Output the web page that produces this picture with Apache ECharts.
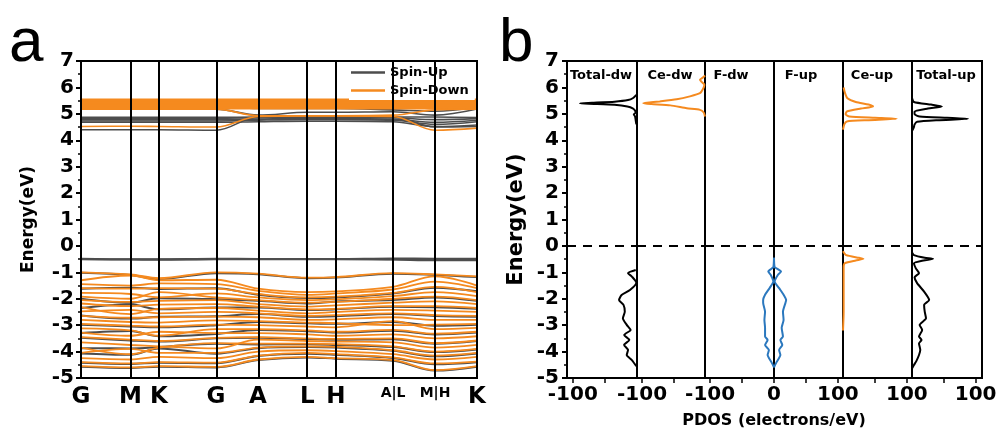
<!DOCTYPE html>
<html>
<head>
<meta charset="utf-8">
<script src="https://cdn.jsdelivr.net/npm/echarts@6.0.0/dist/echarts.min.js"></script>
<style>html,body{margin:0;padding:0;background:#fff}#main{width:1002px;height:439px}</style>
</head>
<body>
<div id="main"></div>
<script>
// band structure: k-path distances and labels
var kDist = [0, 0.577, 0.910, 1.577, 2.067, 2.644, 2.977, 3.644, 4.134, 4.624];
var kLabels = ['G', 'M', 'K', 'G', 'A', 'L', 'H', 'A|L', 'M|H', 'K'];

// spin-up bands (energies at each k point)
var upCond = [
  [4.68, 4.68, 4.68, 4.68, 4.70, 4.72, 4.72, 4.70, 4.52, 4.58],
  [4.73, 4.73, 4.73, 4.73, 4.76, 4.78, 4.78, 4.76, 4.60, 4.70],
  [4.78, 4.78, 4.78, 4.78, 4.80, 4.82, 4.82, 4.80, 4.68, 4.76],
  [4.83, 4.83, 4.83, 4.83, 4.85, 4.86, 4.86, 4.85, 4.78, 4.82],
  [4.87, 4.87, 4.87, 4.87, 4.88, 4.90, 4.90, 4.88, 4.88, 4.86],
  [4.40, 4.40, 4.40, 4.38, 4.88, 4.88, 4.88, 4.88, 4.50, 4.52],
  [5.18, 5.18, 5.18, 5.18, 4.95, 5.06, 5.06, 5.08, 4.95, 5.18],
  [5.28, 5.28, 5.28, 5.28, 5.20, 5.20, 5.20, 5.15, 5.10, 5.25]
];
var upFlat = [
  [-0.48, -0.50, -0.50, -0.48, -0.49, -0.49, -0.49, -0.47, -0.48, -0.48],
  [-0.51, -0.52, -0.53, -0.51, -0.51, -0.51, -0.51, -0.50, -0.52, -0.53],
  [-0.50, -0.51, -0.51, -0.50, -0.50, -0.50, -0.50, -0.52, -0.55, -0.55]
];
var upVal = [
  [-1.02, -1.10, -1.25, -1.03, -1.07, -1.22, -1.20, -1.05, -1.10, -1.18],
  [-1.62, -1.58, -1.63, -1.60, -1.85, -1.97, -1.95, -1.80, -1.58, -1.72],
  [-2.00, -2.15, -1.98, -2.02, -2.08, -2.18, -2.10, -2.05, -1.95, -2.08],
  [-2.35, -2.22, -2.40, -2.33, -2.33, -2.43, -2.40, -2.30, -2.32, -2.38],
  [-2.63, -2.75, -2.68, -2.66, -2.58, -2.68, -2.66, -2.58, -2.65, -2.68],
  [-2.98, -3.05, -3.08, -3.00, -2.88, -2.93, -2.95, -2.88, -3.02, -2.98],
  [-3.30, -3.22, -3.42, -3.33, -3.18, -3.23, -3.28, -3.21, -3.35, -3.28],
  [-3.48, -3.58, -3.62, -3.50, -3.48, -3.53, -3.55, -3.53, -3.70, -3.60],
  [-3.87, -3.88, -3.83, -3.70, -3.73, -3.72, -3.75, -3.83, -4.02, -3.92],
  [-4.07, -4.12, -3.88, -4.08, -3.87, -3.83, -3.85, -3.97, -4.18, -4.07],
  [-4.42, -4.47, -4.42, -4.44, -4.17, -4.08, -4.12, -4.24, -4.48, -4.40],
  [-4.57, -4.62, -4.57, -4.60, -4.32, -4.22, -4.27, -4.35, -4.72, -4.57]
];

// spin-down bands
var dnCond = [
  [5.22, 5.22, 5.22, 5.22, 5.22, 5.22, 5.22, 5.22, 5.22, 5.22],
  [5.28, 5.28, 5.28, 5.28, 5.28, 5.28, 5.28, 5.28, 5.28, 5.28],
  [5.34, 5.34, 5.34, 5.34, 5.34, 5.34, 5.34, 5.34, 5.34, 5.34],
  [5.40, 5.40, 5.40, 5.40, 5.40, 5.40, 5.40, 5.40, 5.40, 5.40],
  [5.46, 5.46, 5.46, 5.46, 5.46, 5.46, 5.46, 5.46, 5.46, 5.46],
  [5.52, 5.52, 5.52, 5.52, 5.52, 5.52, 5.52, 5.52, 5.52, 5.52],
  [5.18, 5.18, 5.18, 5.18, 4.93, 4.93, 4.93, 4.95, 5.15, 5.18],
  [4.52, 4.53, 4.52, 4.50, 4.90, 4.92, 4.92, 4.90, 4.38, 4.46]
];
var dnVal = [
  [-1.00, -1.08, -1.22, -1.00, -1.05, -1.20, -1.18, -1.03, -1.08, -1.15],
  [-1.30, -1.12, -1.30, -1.28, -1.62, -1.75, -1.72, -1.55, -1.15, -1.50],
  [-1.45, -1.50, -1.42, -1.45, -1.70, -1.85, -1.80, -1.65, -1.35, -1.60],
  [-1.60, -1.62, -1.60, -1.62, -1.82, -1.95, -1.92, -1.78, -1.55, -1.75],
  [-1.78, -1.82, -1.95, -1.80, -1.95, -2.05, -2.02, -1.90, -1.75, -1.90],
  [-1.92, -2.00, -1.75, -1.95, -2.05, -2.15, -2.12, -2.00, -1.92, -2.05],
  [-2.05, -2.12, -2.08, -2.05, -2.20, -2.30, -2.25, -2.15, -2.10, -2.20],
  [-2.18, -2.28, -2.22, -2.20, -2.30, -2.40, -2.38, -2.28, -2.28, -2.35],
  [-2.32, -2.58, -2.38, -2.35, -2.45, -2.55, -2.50, -2.42, -2.45, -2.50],
  [-2.48, -2.42, -2.55, -2.50, -2.55, -2.65, -2.62, -2.55, -2.62, -2.65],
  [-2.65, -2.72, -2.70, -2.68, -2.70, -2.80, -2.78, -2.70, -2.80, -2.80],
  [-2.80, -2.88, -2.90, -2.82, -2.85, -2.90, -2.92, -3.00, -2.98, -2.95],
  [-2.95, -3.02, -3.05, -2.98, -3.00, -3.05, -3.08, -2.85, -3.15, -3.10],
  [-3.12, -3.20, -3.40, -3.15, -3.15, -3.20, -3.25, -3.18, -3.32, -3.25],
  [-3.28, -3.40, -3.25, -3.30, -3.30, -3.35, -3.40, -3.35, -3.50, -3.42],
  [-3.45, -3.55, -3.60, -3.48, -3.45, -3.50, -3.52, -3.50, -3.68, -3.58],
  [-3.65, -3.75, -3.80, -3.88, -3.55, -3.60, -3.62, -3.65, -3.85, -3.75],
  [-3.85, -4.10, -3.85, -3.68, -3.70, -3.70, -3.72, -3.80, -4.00, -3.90],
  [-4.05, -3.90, -4.05, -4.05, -3.85, -3.80, -3.82, -3.95, -4.15, -4.05],
  [-4.25, -4.30, -4.20, -4.25, -4.00, -3.95, -3.98, -4.10, -4.30, -4.20],
  [-4.40, -4.45, -4.40, -4.42, -4.15, -4.05, -4.10, -4.22, -4.45, -4.38],
  [-4.55, -4.60, -4.55, -4.58, -4.30, -4.20, -4.25, -4.32, -4.70, -4.55]
];

// PDOS curves: energy / value pairs
var totalDwCondE = [5.72, 5.6, 5.52, 5.46, 5.42, 5.40, 5.38, 5.34, 5.28, 5.2, 5.12, 5.05, 4.98, 4.9, 4.75, 4.6];
var totalDwCondV = [-1, -6, -14, -35, -70, -89, -75, -35, -15, -6, -3, -2, -5, -3, -2, -1];
var totalDwValE = [-0.91, -1.03, -1.16, -1.39, -1.67, -1.86, -2.05, -2.23, -2.49, -2.74, -2.99, -3.18, -3.37, -3.56, -3.75, -3.94, -4.13, -4.32, -4.55];
var totalDwValV = [-2, -14, -8, -1, -11, -24, -28, -21, -19, -22, -16, -10, -20, -12, -20, -14, -16, -8, -1];
var ceDwE = [6.45, 6.38, 6.29, 6.2, 6.1, 5.95, 5.78, 5.66, 5.55, 5.47, 5.42, 5.40, 5.37, 5.32, 5.21, 5.15, 5.05, 4.9];
var ceDwV = [0, -3, -8, -5, -1, -3, -8, -24, -45, -72, -92, -98, -85, -55, -29, -8, -2, 0];
var fE = [-0.45, -0.8, -0.88, -0.97, -1.1, -1.35, -1.6, -1.85, -2.05, -2.15, -2.49, -2.8, -3.1, -3.43, -3.56, -3.75, -3.94, -4.13, -4.4, -4.6];
var fDwV = [0, -1, -5, -9, -5, -1, -7, -14, -17, -17, -14, -15, -14, -14, -10, -14, -8, -10, -4, 0];
var fUpV = [0, 1, 6, 11, 6, 1, 8, 15, 19, 18, 14, 15, 12, 14, 10, 13, 8, 10, 4, 0];
var ceUpCondE = [6.0, 5.8, 5.59, 5.45, 5.35, 5.28, 5.2, 5.09, 4.98, 4.9, 4.85, 4.81, 4.76, 4.71, 4.6, 4.4];
var ceUpCondV = [1, 3, 7, 20, 40, 47, 28, 6, 4, 10, 50, 84, 40, 6, 2, 0];
var ceUpValE = [-0.2, -0.35, -0.45, -0.49, -0.55, -0.65, -0.8, -1.5, -2.5, -3.2];
var ceUpValV = [0, 5, 25, 32, 20, 3, 1, 1, 1, 0];
var totalUpCondE = [5.6, 5.45, 5.35, 5.28, 5.2, 5.09, 4.98, 4.9, 4.85, 4.81, 4.76, 4.7, 4.6, 4.5, 4.35];
var totalUpCondV = [0, 3, 30, 47, 25, 4, 4, 12, 55, 88, 40, 8, 4, 3, 0];
var totalUpValE = [-0.25, -0.35, -0.45, -0.49, -0.55, -0.66, -0.85, -1.03, -1.19, -1.41, -1.73, -2.05, -2.23, -2.49, -2.74, -2.99, -3.18, -3.43, -3.56, -3.69, -3.94, -4.13, -4.35, -4.51, -4.64];
var totalUpValV = [0, 3, 20, 33, 18, 3, 6, 11, 4, 8, 19, 27, 19, 20, 22, 12, 16, 11, 15, 11, 13, 11, 7, 3, 0];

var panelNames = ['Total-dw', 'Ce-dw', 'F-dw', 'F-up', 'Ce-up', 'Total-up'];
var pdosMin = [-109, -108, -108, 0, 0, 0];
var pdosMax = [0, 0, 0, 108, 108, 110];
var pdosLabels = [[-100], [-100], [-100], [0, 100], [100], [100]];
var pdosTicks = [[-100, -50], [-100, -50], [-100, -50], [0, 50, 100], [50, 100], [50, 100]];

var FONT = 'DejaVu Sans';
var ORANGE = '#f58a1f';
var GREY = '#4d4d4d';
var BLUE = '#2b78be';

var chart = echarts.init(document.getElementById('main'));

function band(name, color, width, values) {
  return {
    type: 'line', name: name, xAxisIndex: 0, yAxisIndex: 0,
    data: values.map(function (e, i) { return [kDist[i], e]; }),
    smooth: 0.35, showSymbol: false, symbol: 'none', silent: true,
    lineStyle: { color: color, width: width }, itemStyle: { color: color }
  };
}

function dos(idx, xs, es, color) {
  return {
    type: 'line', xAxisIndex: idx, yAxisIndex: idx,
    data: es.map(function (e, i) { return [xs[i], e]; }),
    smooth: 0.2, showSymbol: false, symbol: 'none', silent: true,
    lineStyle: { color: color, width: 2 }
  };
}

var zeroLine = {
  silent: true, symbol: 'none', label: { show: false },
  lineStyle: { color: '#000', width: 2, type: [9, 7] },
  data: [{ yAxis: 0 }]
};

var series = [];
upCond.forEach(function (b) { series.push(band('Spin-Up', GREY, 1.6, b)); });
upFlat.forEach(function (b) { series.push(band('Spin-Up', GREY, 1.8, b)); });
upVal.forEach(function (b) { series.push(band('Spin-Up', GREY, 2, b)); });
dnCond.forEach(function (b, i) { series.push(band('Spin-Down', ORANGE, i < 6 ? 3 : 1.6, b)); });
dnVal.forEach(function (b) { series.push(band('Spin-Down', ORANGE, 1.8, b)); });
series[series.length - 1].markLine = {
  silent: true, symbol: 'none', label: { show: false },
  lineStyle: { color: '#000', width: 2, type: 'solid' },
  data: kDist.map(function (k) { return { xAxis: k }; })
};

var s;
s = dos(1, totalDwCondV, totalDwCondE, '#000'); s.markLine = zeroLine; series.push(s);
series.push(dos(1, totalDwValV, totalDwValE, '#000'));
s = dos(2, ceDwV, ceDwE, ORANGE); s.markLine = zeroLine; series.push(s);
s = dos(3, fDwV, fE, BLUE); s.markLine = zeroLine; series.push(s);
s = dos(4, fUpV, fE, BLUE); s.markLine = zeroLine; series.push(s);
s = dos(5, ceUpCondV, ceUpCondE, ORANGE); s.markLine = zeroLine; series.push(s);
series.push(dos(5, ceUpValV, ceUpValE, ORANGE));
s = dos(6, totalUpCondV, totalUpCondE, '#000'); s.markLine = zeroLine; series.push(s);
series.push(dos(6, totalUpValV, totalUpValE, '#000'));

var edges = [567, 637, 705, 774, 843, 912, 982];
var grids = [{ left: 81, top: 61, width: 396, height: 317, show: true, borderColor: '#000', borderWidth: 2, outerBoundsMode: 'none' }];
var xAxes = [{
  type: 'value', gridIndex: 0, min: 0, max: kDist[kDist.length - 1],
  axisLine: { onZero: false, lineStyle: { color: '#000', width: 2 } },
  axisTick: { show: false }, splitLine: { show: false },
  axisLabel: {
    customValues: kDist, showMinLabel: true, showMaxLabel: true,
    margin: 8, color: '#000', fontFamily: FONT, fontWeight: 'bold', fontSize: 23,
    formatter: function (v) {
      var i = kDist.findIndex(function (k) { return Math.abs(k - v) < 1e-6; });
      var t = i < 0 ? '' : kLabels[i];
      return t.indexOf('|') >= 0 ? '{s|' + t + '}' : t;
    },
    rich: { s: { fontSize: 14, fontWeight: 'bold', fontFamily: FONT, color: '#000' } }
  }
}];
var yBase = {
  type: 'value', min: -5, max: 7, interval: 1,
  axisLine: { onZero: false, lineStyle: { color: '#000', width: 2 } },
  axisTick: { length: 5, lineStyle: { color: '#000', width: 2 } },
  minorTick: { show: true, splitNumber: 2, length: 3, lineStyle: { color: '#000', width: 1.5 } },
  splitLine: { show: false },
  nameLocation: 'middle', nameRotate: 90,
  nameTextStyle: { fontFamily: FONT, fontWeight: 'bold', color: '#000' }
};
var yAxes = [Object.assign({}, yBase, {
  gridIndex: 0, name: 'Energy(eV)', nameGap: 44,
  nameTextStyle: { fontFamily: FONT, fontWeight: 'bold', color: '#000', fontSize: 17 },
  axisLabel: { margin: 7, color: '#000', fontFamily: FONT, fontWeight: 'bold', fontSize: 20 }
})];

for (var i = 0; i < 6; i++) {
  grids.push({ left: edges[i], top: 61, width: edges[i + 1] - edges[i], height: 317, show: true, borderColor: '#000', borderWidth: 2, outerBoundsMode: 'none' });
  xAxes.push({
    type: 'value', gridIndex: i + 1, min: pdosMin[i], max: pdosMax[i],
    axisLine: { onZero: false, lineStyle: { color: '#000', width: 2 } },
    axisTick: { customValues: pdosTicks[i], length: 5, lineStyle: { color: '#000', width: 1.5 } },
    splitLine: { show: false },
    axisLabel: { customValues: pdosLabels[i], showMinLabel: true, showMaxLabel: true, margin: 7, color: '#000', fontFamily: FONT, fontWeight: 'bold', fontSize: 20 }
  });
  if (i === 0) {
    yAxes.push(Object.assign({}, yBase, {
      gridIndex: 1, name: 'Energy(eV)', nameGap: 40,
      nameTextStyle: { fontFamily: FONT, fontWeight: 'bold', color: '#000', fontSize: 21 },
      axisLabel: { margin: 8, color: '#000', fontFamily: FONT, fontWeight: 'bold', fontSize: 20 }
    }));
  } else {
    yAxes.push({ type: 'value', gridIndex: i + 1, min: -5, max: 7, show: false, axisLine: { onZero: false }, splitLine: { show: false } });
  }
}

var labelX = [601, 670, 731, 801, 872, 946];
var graphics = [
  { type: 'text', x: 9, y: 44, style: { text: 'a', fontSize: 62, fontFamily: 'Liberation Sans', fill: '#000', verticalAlign: 'middle' } },
  { type: 'text', x: 499, y: 44, style: { text: 'b', fontSize: 62, fontFamily: 'Liberation Sans', fill: '#000', verticalAlign: 'middle' } },
  { type: 'text', x: 774, y: 421, style: { text: 'PDOS (electrons/eV)', fontSize: 16, fontWeight: 'bold', fontFamily: FONT, fill: '#000', align: 'center', verticalAlign: 'middle' } }
];
panelNames.forEach(function (n, i) {
  graphics.push({ type: 'text', x: labelX[i], y: 76, z: 10, style: { text: n, fontSize: 13, fontWeight: 'bold', fontFamily: FONT, fill: '#000', align: 'center', verticalAlign: 'middle' } });
});

chart.setOption({
  animation: false,
  backgroundColor: '#fff',
  legend: {
    data: ['Spin-Up', 'Spin-Down'], orient: 'vertical', left: 349, top: 63,
    icon: 'rect', itemWidth: 34, itemHeight: 2.5, itemGap: 5,
    backgroundColor: '#fff', padding: [3, 6, 3, 2],
    textStyle: { fontFamily: FONT, fontWeight: 'bold', fontSize: 13, color: '#000' }
  },
  grid: grids,
  xAxis: xAxes,
  yAxis: yAxes,
  series: series,
  graphic: graphics
});
</script>
</body>
</html>
